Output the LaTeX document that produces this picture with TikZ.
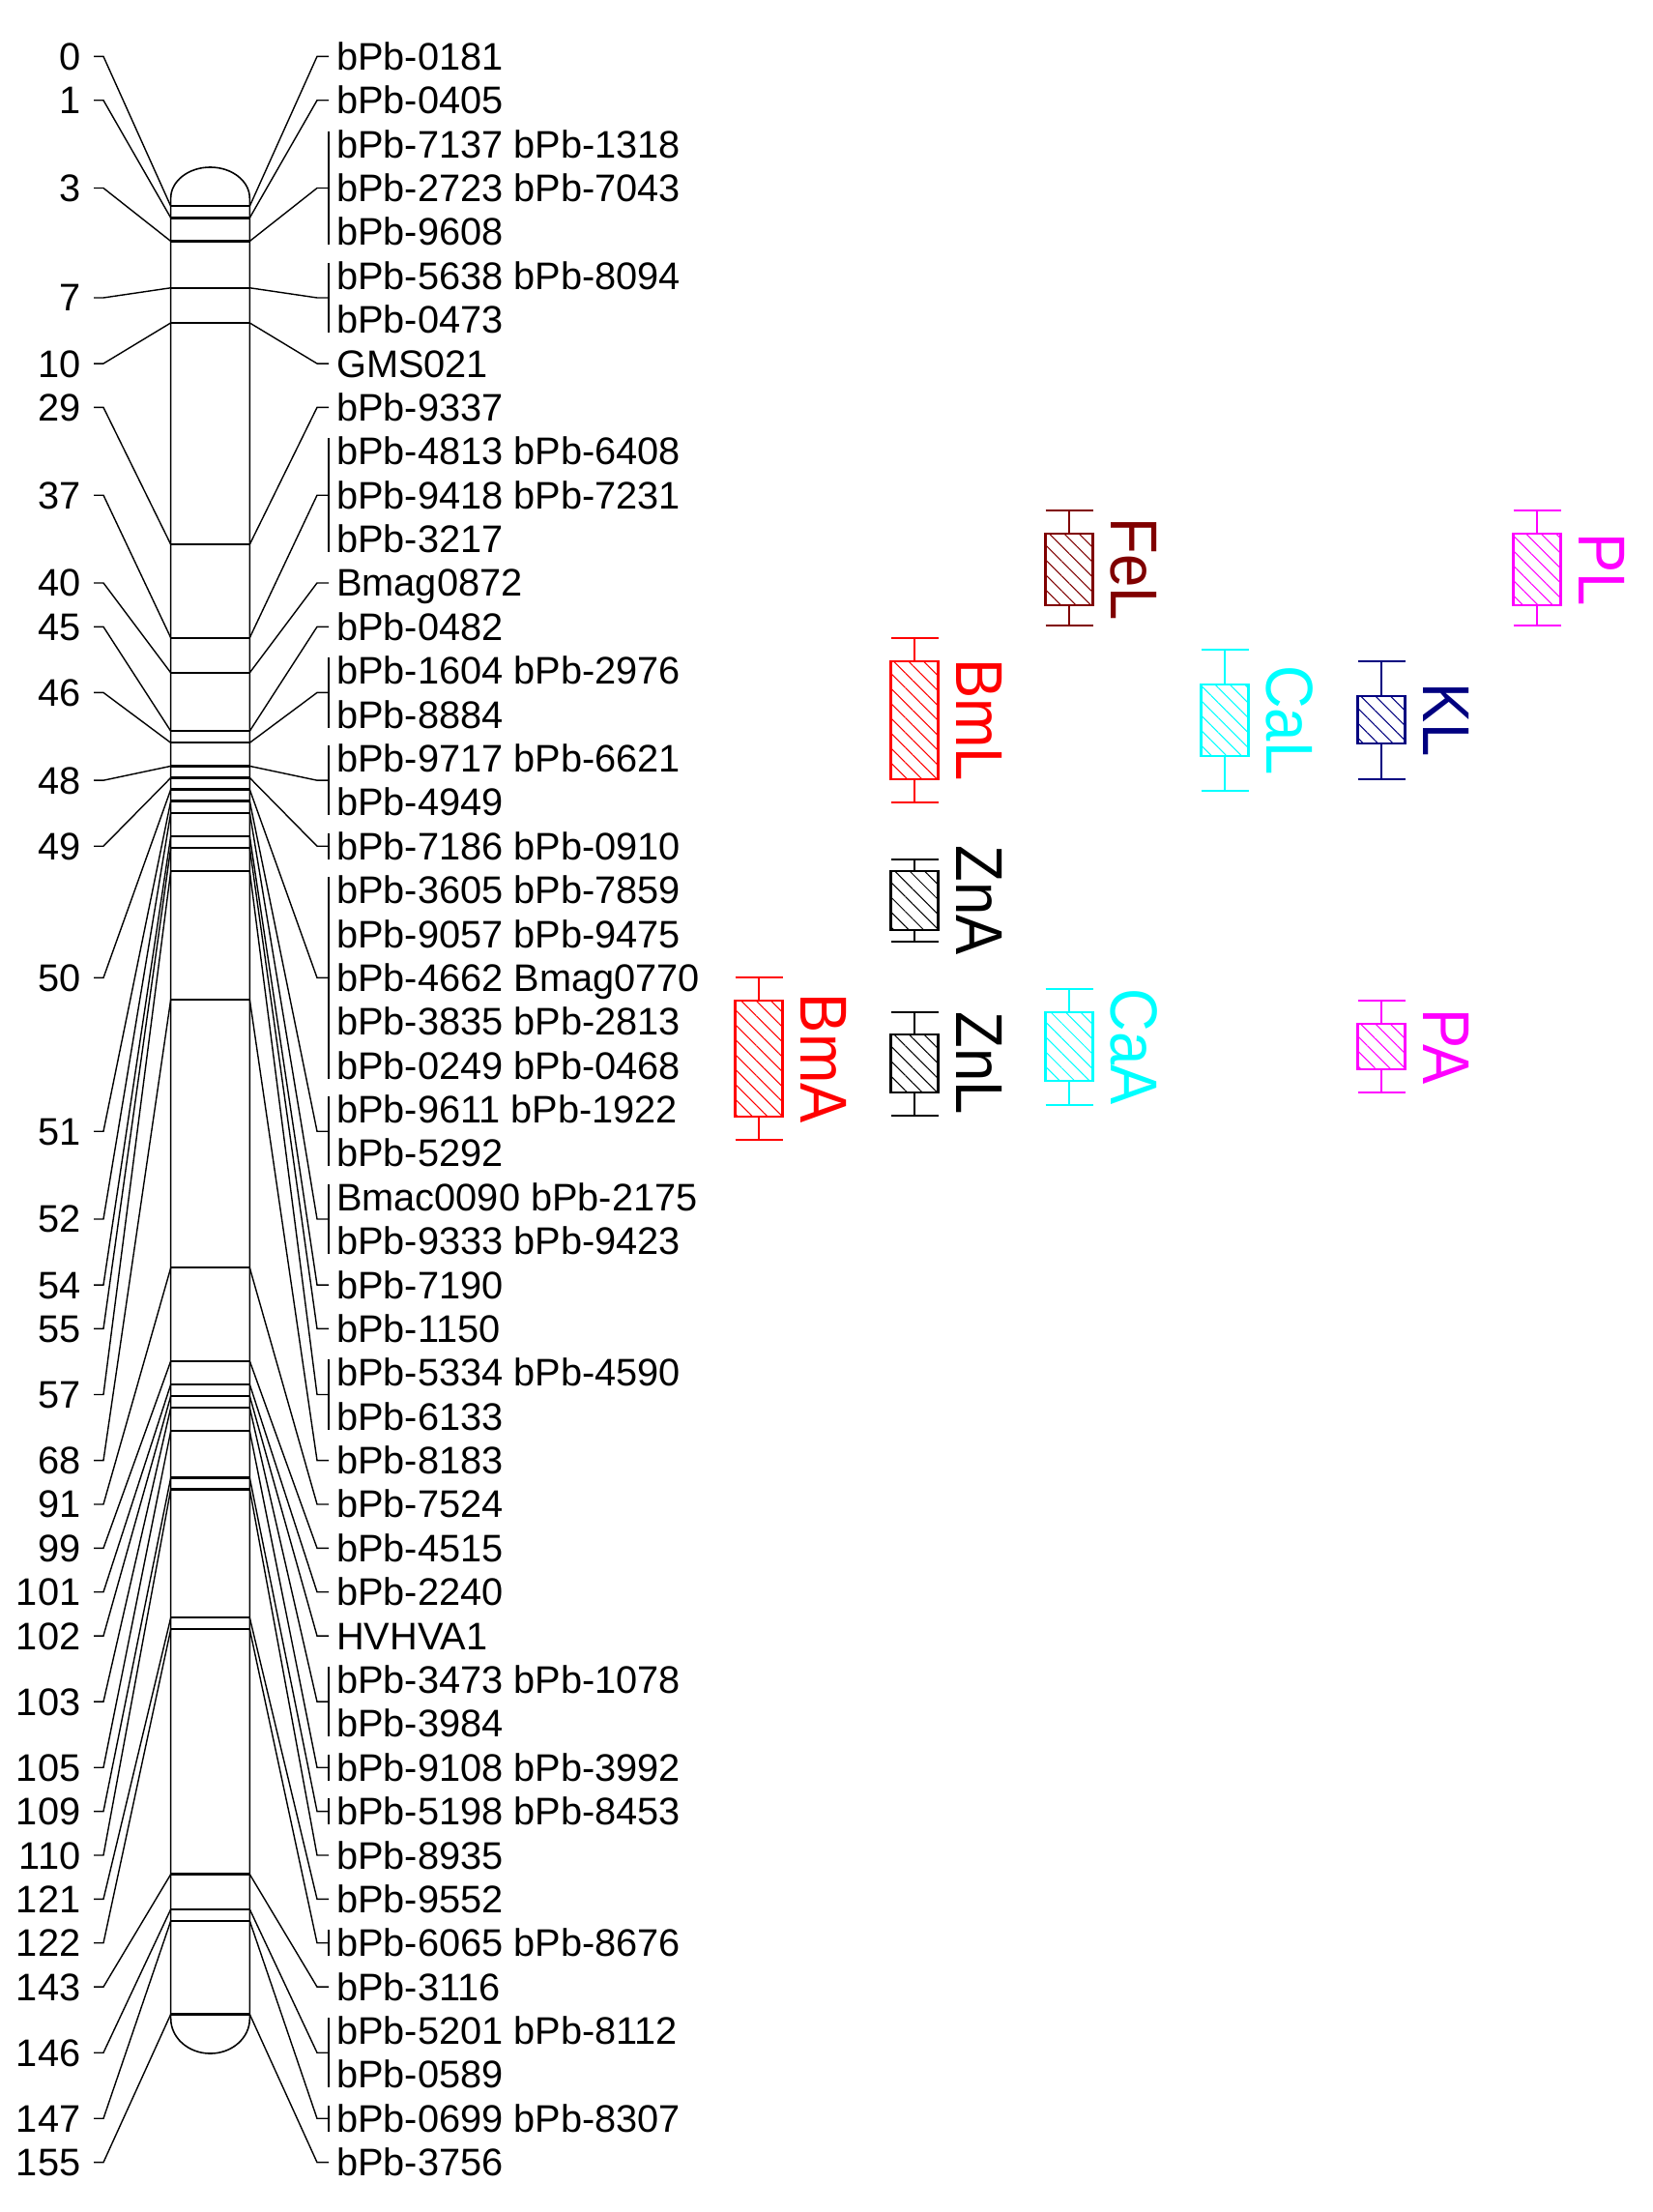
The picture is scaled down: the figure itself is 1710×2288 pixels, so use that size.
\documentclass[tikz,border=0pt]{standalone}
\usepackage{fontspec}
\setmainfont{Liberation Sans}
\usepackage{graphicx}
\usetikzlibrary{patterns.meta}
\definecolor{qmaroon}{RGB}{128,0,0}
\definecolor{qred}{RGB}{255,0,0}
\definecolor{qcyan}{RGB}{0,255,255}
\definecolor{qnavy}{RGB}{0,0,128}
\definecolor{qmag}{RGB}{255,0,255}
\newcommand{\labfont}{\fontsize{11.3}{13}\selectfont}
\newcommand{\qtlfont}{\fontsize{19.5}{22}\selectfont}
\tikzset{
  conn/.style={line width=0.4pt},
  locusline/.style={line width=0.65pt},
  chromo/.style={line width=0.45pt},
  mlab/.style={anchor=base west, inner sep=0pt, font=\labfont},
  nlab/.style={anchor=base east, inner sep=0pt, font=\labfont},
  qbox/.style={line width=0.6pt},
}
% QTL: name, colour, x centre, whisker top, box top, box bottom, whisker bottom, label
\newcommand{\qtlItem}[8]{%
  \draw[qbox, draw=#2, pattern={Lines[angle=-45,distance=3.1pt,line width=0.3pt]}, pattern color=#2]
    (#3-24.5,#5) rectangle (#3+24.5,#6);
  \coordinate (#1wt) at (#3,#4);
  \coordinate (#1bt) at (#3,#5);
  \coordinate (#1bb) at (#3,#6);
  \coordinate (#1wb) at (#3,#7);
  \draw[qbox, draw=#2] (#1wt) -- (#1bt);
  \draw[qbox, draw=#2] (#1bb) -- (#1wb);
  \draw[qbox, draw=#2] (#3-24.5,#4) -- (#3+24.5,#4);
  \draw[qbox, draw=#2] (#3-24.5,#7) -- (#3+24.5,#7);
  \node[rotate=-90, anchor=base, inner sep=0pt, text=#2, font=\qtlfont] (#1lab) at ({#3+43.5},{(#5+#6)/2}) {\scalebox{0.9}[1]{#8}};
}
\begin{document}
\begin{tikzpicture}[x=0.01cm,y=-0.01cm]
\useasboundingbox (0,0) rectangle (1710,2288);
\fill[white] (0,0) rectangle (1710,2288);

% chromosome outline
\draw[chromo] (176.7,205) -- (176.7,2088)
  arc[start angle=180,end angle=360,x radius=0.408cm,y radius=0.36cm]
  -- (258.3,205)
  arc[start angle=0,end angle=180,x radius=0.408cm,y radius=0.32cm] -- cycle;

% loci
\foreach \c/\lr/\rf/\rl/\br in {
0/0/0/0/0, 1/1/1/1/0, 3/3/2/4/1, 7/5.5/5/6/1, 10/7/7/7/0, 29/8/8/8/0,
37/10/9/11/1, 40/12/12/12/0, 45/13/13/13/0, 46/14.5/14/15/1, 48/16.5/16/17/1,
49/18/18/18/1, 50/21/19/23/1, 51/24.5/24/25/1, 52/26.5/26/27/1, 54/28/28/28/0,
55/29/29/29/0, 57/30.5/30/31/1, 68/32/32/32/0, 91/33/33/33/0, 99/34/34/34/0,
101/35/35/35/0, 102/36/36/36/0, 103/37.5/37/38/1, 105/39/39/39/1, 109/40/40/40/1,
110/41/41/41/0, 121/42/42/42/0, 122/43/43/43/1, 143/44/44/44/0, 146/45.5/45/46/1,
147/47/47/47/1, 155/48/48/48/0}{
  \pgfmathsetmacro\ly{213.3+12.065*\c}
  \pgfmathsetmacro\ty{58.4+45.38*\lr}
  \coordinate (cl\c) at (176.7,\ly);
  \coordinate (cr\c) at (258.3,\ly);
  \coordinate (lt\c) at (97,\ty);
  \coordinate (lk\c) at (107,\ty);
  \coordinate (rk\c) at (328,\ty);
  \coordinate (rt\c) at (340,\ty);
  \node[nlab] (n\c) at (84,\ty+14) {\c};
  \draw[conn] (lt\c) -- (lk\c) -- (cl\c);
  \draw[conn] (cr\c) -- (rk\c) -- (rt\c);
  \draw[locusline] (cl\c) -- (cr\c);
  \ifnum\br=1
    \draw[conn] (340,58.4+45.38*\rf-13.5) -- (340,58.4+45.38*\rl+13.5);
  \fi
}

% marker labels
\foreach \i/\t in {
0/bPb-0181, 1/bPb-0405, 2/bPb-7137 bPb-1318, 3/bPb-2723 bPb-7043, 4/bPb-9608,
5/bPb-5638 bPb-8094, 6/bPb-0473, 7/GMS021, 8/bPb-9337, 9/bPb-4813 bPb-6408,
10/bPb-9418 bPb-7231, 11/bPb-3217, 12/Bmag0872, 13/bPb-0482, 14/bPb-1604 bPb-2976,
15/bPb-8884, 16/bPb-9717 bPb-6621, 17/bPb-4949, 18/bPb-7186 bPb-0910,
19/bPb-3605 bPb-7859, 20/bPb-9057 bPb-9475, 21/bPb-4662 Bmag0770,
22/bPb-3835 bPb-2813, 23/bPb-0249 bPb-0468, 24/bPb-9611 bPb-1922, 25/bPb-5292,
26/Bmac0090 bPb-2175, 27/bPb-9333 bPb-9423, 28/bPb-7190, 29/bPb-1150,
30/bPb-5334 bPb-4590, 31/bPb-6133, 32/bPb-8183, 33/bPb-7524, 34/bPb-4515,
35/bPb-2240, 36/HVHVA1, 37/bPb-3473 bPb-1078, 38/bPb-3984, 39/bPb-9108 bPb-3992,
40/bPb-5198 bPb-8453, 41/bPb-8935, 42/bPb-9552, 43/bPb-6065 bPb-8676,
44/bPb-3116, 45/bPb-5201 bPb-8112, 46/bPb-0589, 47/bPb-0699 bPb-8307,
48/bPb-3756}{
  \node[mlab] (m\i) at (347.5,58.4+45.38*\i+14) {\t};
}

% QTL
\qtlItem{FeL}{qmaroon}{1106}{528.3}{552.3}{625.7}{647.3}{FeL}
\qtlItem{PL}{qmag}{1590}{528.3}{552.3}{625.7}{647.3}{PL}
\qtlItem{BmL}{qred}{946}{660}{684}{805.7}{830}{BmL}
\qtlItem{CaL}{qcyan}{1267}{672}{708.3}{781.7}{818.3}{CaL}
\qtlItem{KL}{qnavy}{1429}{684}{720}{769.3}{806}{KL}
\qtlItem{ZnA}{black}{946}{889}{901}{961.7}{974.3}{ZnA}
\qtlItem{BmA}{qred}{785}{1010.7}{1034.7}{1155}{1179.3}{BmA}
\qtlItem{ZnL}{black}{946}{1047.3}{1069.7}{1130}{1154.3}{ZnL}
\qtlItem{CaA}{qcyan}{1106}{1022.7}{1047}{1118.3}{1142.7}{CaA}
\qtlItem{PA}{qmag}{1429}{1034.7}{1059.3}{1106}{1130}{PA}
\end{tikzpicture}
\end{document}
